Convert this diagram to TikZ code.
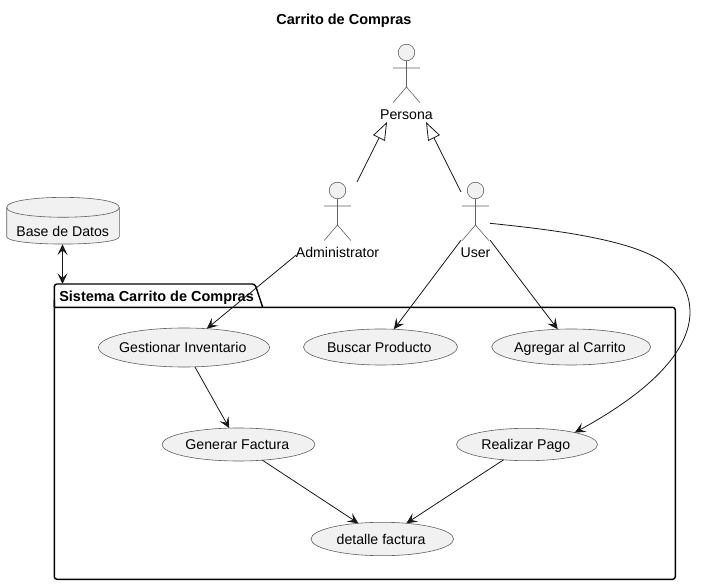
\documentclass[tikz,border=0pt]{standalone}
\usepackage{fontspec}
\usepackage{xcolor}
\usetikzlibrary{calc,arrows.meta,shapes.geometric}
\setmainfont{Liberation Sans}
\definecolor{umlFill}{RGB}{241,241,241}
\definecolor{umlLine}{RGB}{24,24,24}
\definecolor{umlThin}{RGB}{96,96,96}
\tikzset{
  plainlabel/.style={inner sep=0pt,outer sep=0pt,text height=8.7pt,text depth=1.1pt},
  usecase/.style={ellipse,draw=umlThin,fill=umlFill,line width=0.45pt,inner sep=0pt,outer sep=0pt},
  actorbox/.style={inner sep=0pt,outer sep=0pt,minimum height=58.5pt},
  stick/.style={draw=umlThin,line width=0.45pt},
  assoc/.style={draw=umlLine,line width=0.6pt,-{Stealth[length=8pt,width=7.5pt,inset=3.4pt]}},
  generalize/.style={draw=umlLine,line width=0.6pt,-{Triangle[open,length=13.5pt,width=9.8pt,fill=white]}},
  bothways/.style={draw=umlLine,line width=0.85pt,{Stealth[length=8pt,width=7.5pt,inset=3.4pt]}-{Stealth[length=8pt,width=7.5pt,inset=3.4pt]}},
  pkgline/.style={draw=black,line width=1.1pt,line join=round}
}
\newcommand{\sizeten}{\fontsize{10.6}{12}\selectfont}
\newcommand{\sizebold}{\fontsize{10.85}{12}\selectfont\bfseries}
\begin{document}
\begin{tikzpicture}[x=0.75pt,y=-0.75pt,font=\sizeten]
\useasboundingbox (0,0) rectangle (701,585);
\node[plainlabel,font=\sizebold] (title) at (344,19.5) {Carrito de Compras};

\draw[pkgline,rounded corners=2pt] (54.3,307.3)--(54.3,284)--(255,284)--(262.7,307.3);
\draw[pkgline,rounded corners=2pt] (54.3,300)--(54.3,579.3)--(675.3,579.3)--(675.3,307.3)--(54.3,307.3);
\node[plainlabel,anchor=west,font=\sizebold] (pkgtitle) at (59.3,296) {Sistema Carrito de Compras};
\coordinate (pkgtop) at (62.5,284);

\draw[stick,fill=umlFill] (6.7,207.5) .. controls (6.7,194) and (119.3,194) .. (119.3,207.5)
  -- (119.3,236.7) .. controls (119.3,246.5) and (6.7,246.5) .. (6.7,236.7) -- cycle;
\draw[stick] (6.7,207.5) .. controls (6.7,220.5) and (119.3,220.5) .. (119.3,207.5);
\node[inner sep=0pt,outer sep=0pt,minimum width=84.5pt,minimum height=35.2pt] (db) at (62.5,220.8) {};
\node[plainlabel] (dblabel) at (62.7,231) {Base de Datos};

\foreach \name/\x/\y/\w/\txt in {persona/406.5/83/53/Persona,admin/337.5/221/83/Administrator,user/475.5/221/29/User}{
  \node[actorbox,minimum width=\w*0.75pt] (\name) at (\x,\y) {};
  \draw[stick,fill=umlFill] (\x,\y-30.5) circle [radius=8.3];
  \draw[stick] (\x,\y-22.2)--(\x,\y+4) (\x-13.3,\y-15)--(\x+13.3,\y-15) (\x-13.3,\y+19.5)--(\x,\y+4)--(\x+13.3,\y+19.5);
  \node[plainlabel] (\name label) at (\x,\y+31) {\txt};
}

\foreach \name/\x/\y/\w/\h/\txt in {inventario/184/347.5/171/39/Gestionar Inventario,buscar/380.5/347/154/36/Buscar Producto,agregar/571.2/347/159/36/Agregar al Carrito,factura/238.5/444.5/153/33/Generar Factura,pago/527/444.5/141/32.4/Realizar Pago,detalle/382.3/539/142.6/33.4/detalle factura}{
  \node[usecase,minimum width=\w*0.75pt,minimum height=\h*0.75pt,label={[plainlabel,name=\name label,xshift=-0.9pt]center:\txt}] (\name) at (\x,\y) {};
}

\draw[generalize] (admin)--(persona);
\draw[generalize] (user)--(persona);
\draw[bothways] (db.south)--(pkgtop);
\draw[assoc] (admin)--(inventario);
\draw[assoc] (user)--(buscar);
\draw[assoc] (user)--(agregar);
\draw[assoc] (inventario)--(factura);
\draw[assoc] (factura)--(detalle);
\draw[assoc] (pago)--(detalle);
\draw[assoc] ($(user.east)+(0,2.3)$) .. controls (545,229) and (625,238) .. (660,260)
  .. controls (690,280) and (735,345) .. (pago.14.3);
\end{tikzpicture}
\end{document}
